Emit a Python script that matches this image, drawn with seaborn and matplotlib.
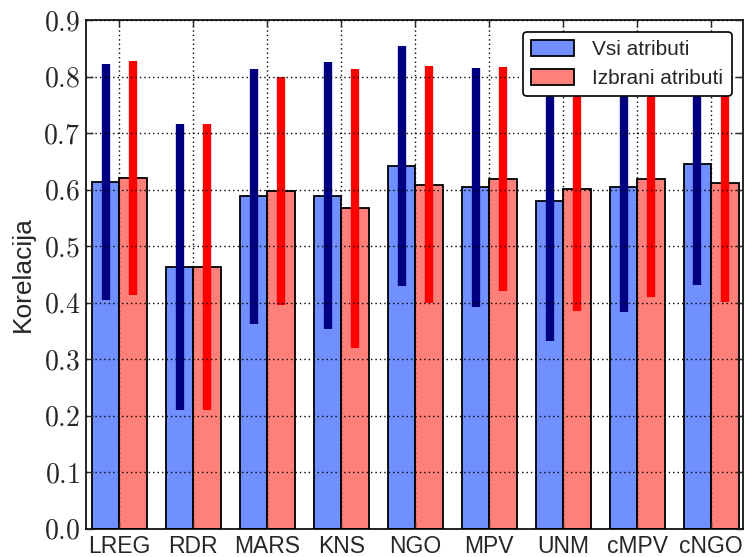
import matplotlib
matplotlib.use("Agg")
import matplotlib.pyplot as plt
import matplotlib.patches as mpatches
from matplotlib.ticker import FuncFormatter
import seaborn as sns
import pandas as pd

categories = ["LREG", "RDR", "MARS", "KNS", "NGO", "MPV", "UNM", "cMPV", "cNGO"]
series_names = ["Vsi atributi", "Izbrani atributi"]
vsi = [0.614, 0.464, 0.588, 0.589, 0.642, 0.604, 0.580, 0.605, 0.645]
vsi_err = [0.209, 0.253, 0.225, 0.236, 0.212, 0.212, 0.248, 0.221, 0.214]
izbrani = [0.621, 0.463, 0.598, 0.567, 0.609, 0.619, 0.601, 0.619, 0.611]
izbrani_err = [0.207, 0.253, 0.202, 0.247, 0.210, 0.198, 0.216, 0.208, 0.210]
y_ticks = [0.0, 0.1, 0.2, 0.3, 0.4, 0.5, 0.6, 0.7, 0.8, 0.9]

bar_colors = ["#7190FF", "#FF7F7A"]
err_colors = ["#000080", "#FF0000"]

sns.set_style("white")
plt.rcParams["font.family"] = ["Liberation Sans", "DejaVu Sans"]
plt.rcParams["mathtext.fontset"] = "cm"

df = pd.DataFrame({
    "model": categories * 2,
    "value": vsi + izbrani,
    "set": [series_names[0]] * len(categories) + [series_names[1]] * len(categories),
})

fig = plt.figure(figsize=(7.48, 5.57), dpi=100)
ax = fig.add_axes([0.115, 0.0503, 0.8783, 0.9137])

sns.barplot(data=df, x="model", y="value", hue="set", order=categories,
            hue_order=series_names, palette=bar_colors, saturation=1,
            width=0.74, gap=0, errorbar=None, edgecolor="black",
            linewidth=1.3, ax=ax, legend=False)

for cont, vals, errs, col in zip(ax.containers, [vsi, izbrani],
                                 [vsi_err, izbrani_err], err_colors):
    xs = [p.get_x() + p.get_width() / 2 for p in cont.patches]
    ax.vlines(xs, [v - e for v, e in zip(vals, errs)],
              [v + e for v, e in zip(vals, errs)], colors=col,
              linewidth=6, capstyle="butt", zorder=2)

ax.set_ylim(0, 0.9)
ax.set_xlim(-0.45, 8.43)
ax.set_yticks(y_ticks)
ax.yaxis.set_major_formatter(FuncFormatter(lambda v, p: f"$\\mathrm{{{v:.1f}}}$"))
ax.set_xlabel("")
ax.set_ylabel("Korelacija", fontsize=19, labelpad=6)

ax.tick_params(axis="y", labelsize=20, direction="in", length=5, width=1,
               right=True, left=True, pad=4)
ax.tick_params(axis="x", labelsize=16.5, direction="in", length=5, width=1,
               top=True, bottom=True, pad=4)

for s in ax.spines.values():
    s.set_visible(True)
    s.set_color("black")
    s.set_linewidth(1.2)

ax.set_axisbelow(False)
ax.grid(True, linestyle=(0, (1, 2.2)), color="black", linewidth=1)

handles = [mpatches.Patch(facecolor=c, edgecolor="black", linewidth=1.3, label=n)
           for c, n in zip(bar_colors, series_names)]
leg = ax.legend(handles=handles, loc="upper right", bbox_to_anchor=(0.983, 0.977),
                borderaxespad=0, fontsize=15, handlelength=2.05, handleheight=0.77,
                labelspacing=0.48, handletextpad=0.88, fancybox=True,
                framealpha=1, edgecolor="black")
leg.get_frame().set_linewidth(1.2)
leg.set_zorder(5)

fig.savefig("out.png", dpi=100)
